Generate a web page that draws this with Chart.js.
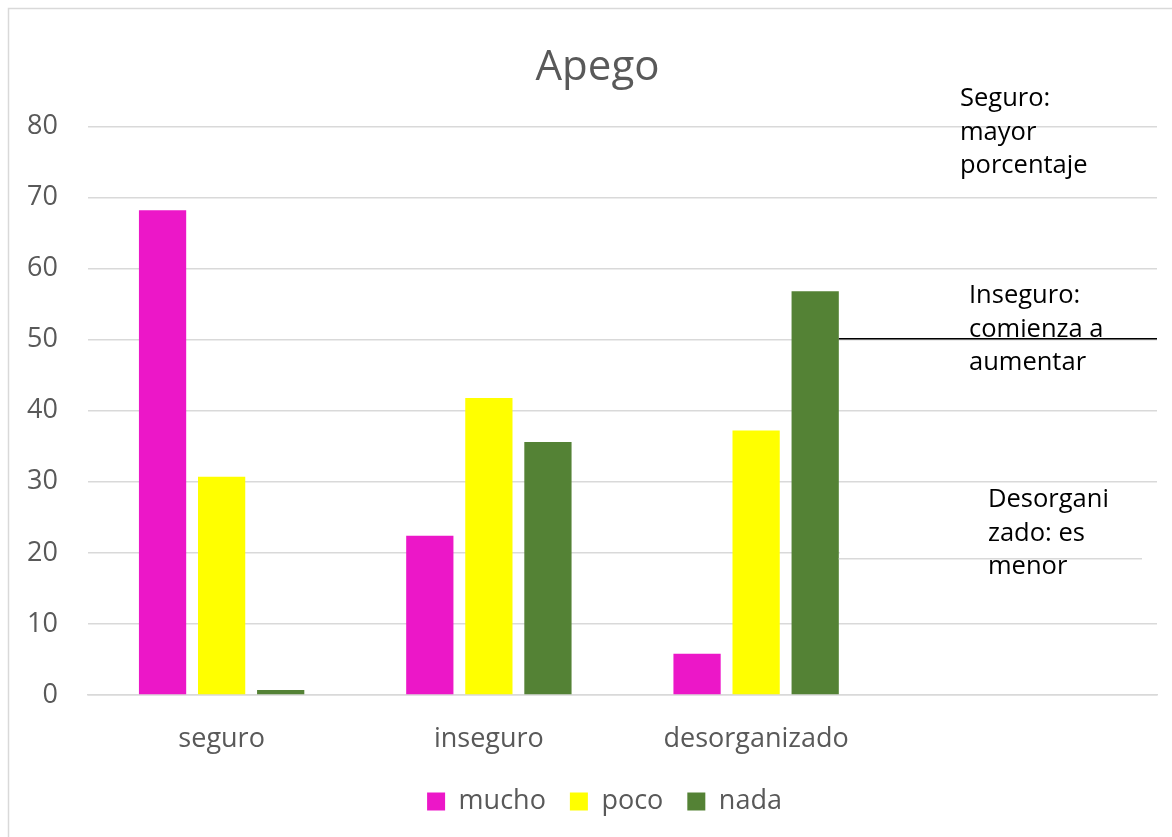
<!DOCTYPE html>
<html>
<head>
<meta charset="utf-8">
<script src="https://cdn.jsdelivr.net/npm/chart.js@4.4.1/dist/chart.umd.min.js"></script>
<style>
  html, body { margin: 0; padding: 0; background: #ffffff; }
  #wrap { position: relative; width: 1172px; height: 837px; }
  canvas { display: block; }
</style>
</head>
<body>
<div id="wrap"><canvas id="c" width="1172" height="837"></canvas></div>
<script>
// ---- data ----
const categories = ["seguro", "inseguro", "desorganizado", ""];
const seriesNames = ["mucho", "poco", "nada"];
const mucho = [68.2, 22.4, 5.8, null];
const poco = [30.7, 41.8, 37.2, null];
const nada = [0.7, 35.6, 56.8, null];
const yTicks = [0, 10, 20, 30, 40, 50, 60, 70, 80];
const notes = [
  ["Seguro:", "mayor", "porcentaje"],
  ["Inseguro:", "comienza a", "aumentar"],
  ["Desorgani", "zado: es", "menor"]
];
const noteLineValue = 50;

const colors = ["#EC17C8", "#FFFF00", "#548235"];
const textColor = "#595959";
const gridColor = "#d9d9d9";
const FONT = "'Open Sans', 'DejaVu Sans', sans-serif";

const annotationPlugin = {
  id: 'annots',
  afterLayout(chart) {
    // offset title and legend centres as in the reference
    chart.titleBlock.left += 19; chart.titleBlock.right += 19;
    chart.legend.left += 26; chart.legend.right += 26;
  },
  beforeDraw(chart) {
    const ctx = chart.ctx;
    ctx.save();
    ctx.strokeStyle = gridColor;
    ctx.lineWidth = 1.5;
    ctx.beginPath();
    ctx.moveTo(8.5, 837);
    ctx.lineTo(8.5, 8.5);
    ctx.lineTo(1172, 8.5);
    ctx.stroke();
    ctx.restore();
  },
  afterDatasetsDraw(chart) {
    const ctx = chart.ctx;
    const y = chart.scales.y;
    const area = chart.chartArea;
    const barMeta = chart.getDatasetMeta(2);
    const bar = barMeta.data[2];
    const barRight = bar.x + bar.width / 2;

    ctx.save();
    // shifted gridline near the lower note box
    const y20 = y.getPixelForValue(20);
    ctx.fillStyle = '#ffffff';
    ctx.fillRect(barRight + 1, y20 - 2, area.right - barRight, 4);
    ctx.strokeStyle = gridColor;
    ctx.lineWidth = 1.5;
    ctx.beginPath();
    ctx.moveTo(barRight, y20 + 6);
    ctx.lineTo(area.right - 15, y20 + 6);
    ctx.stroke();

    // note texts
    ctx.fillStyle = '#000000';
    ctx.font = "25.5px " + FONT;
    ctx.textBaseline = 'alphabetic';
    ctx.textAlign = 'left';
    const pos = [[960, 106], [969, 303], [988, 507]];
    notes.forEach((lines, i) => {
      lines.forEach((t, j) => {
        ctx.fillText(t, pos[i][0], pos[i][1] + j * 33.5);
      });
    });

    // black line
    const yl = y.getPixelForValue(noteLineValue) - 1;
    ctx.strokeStyle = '#000000';
    ctx.lineWidth = 1.5;
    ctx.beginPath();
    ctx.moveTo(barRight, yl);
    ctx.lineTo(area.right, yl);
    ctx.stroke();
    ctx.restore();
  }
};

new Chart(document.getElementById('c'), {
  type: 'bar',
  data: {
    labels: categories,
    datasets: [
      { label: seriesNames[0], data: mucho, backgroundColor: colors[0] },
      { label: seriesNames[1], data: poco, backgroundColor: colors[1] },
      { label: seriesNames[2], data: nada, backgroundColor: colors[2] }
    ]
  },
  options: {
    responsive: false,
    animation: false,
    devicePixelRatio: 1,
    layout: { padding: { left: 0, right: 15, top: 0, bottom: 12 } },
    datasets: { bar: { categoryPercentage: 0.663, barPercentage: 0.8 } },
    plugins: {
      title: {
        display: true,
        text: 'Apego',
        color: textColor,
        font: { family: FONT, size: 42, weight: 'normal' },
        padding: { top: 43, bottom: 33 }
      },
      legend: {
        display: true,
        position: 'bottom',
        labels: {
          color: textColor,
          font: { family: FONT, size: 27 },
          boxWidth: 18,
          boxHeight: 18,
          padding: 24
        }
      },
      tooltip: { enabled: false }
    },
    scales: {
      x: {
        grid: { display: false, drawTicks: false },
        border: { display: true, color: gridColor, width: 1.5 },
        ticks: { color: textColor, font: { family: FONT, size: 27 }, padding: 28, maxRotation: 0 },
        afterFit(scale) { scale.height = 69; }
      },
      y: {
        min: 0, max: 80,
        afterBuildTicks(scale) { scale.ticks = yTicks.map(v => ({ value: v })); },
        grid: { color: gridColor, lineWidth: 1.5, drawTicks: false },
        border: { display: false },
        ticks: { color: textColor, font: { family: FONT, size: 27 }, padding: 30 },
        afterFit(scale) { scale.width = 88; }
      }
    }
  },
  plugins: [annotationPlugin]
});
</script>
</body>
</html>
